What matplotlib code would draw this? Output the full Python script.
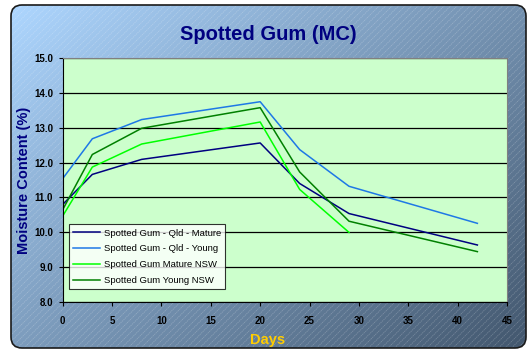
import numpy as np
import matplotlib.pyplot as plt
from matplotlib.patches import FancyBboxPatch
from matplotlib.collections import LineCollection

plt.rcParams['font.family'] = ['Liberation Sans', 'DejaVu Sans']

days = [0, 3, 8, 20, 24, 29, 42]
days_nsw_mature = [0, 3, 8, 20, 24, 29]

qld_mature = [10.80, 11.66, 12.09, 12.56, 11.40, 10.54, 9.64]
qld_young = [11.54, 12.68, 13.23, 13.74, 12.37, 11.32, 10.26]
nsw_mature = [10.47, 11.87, 12.53, 13.16, 11.23, 10.00]
nsw_young = [10.65, 12.23, 12.98, 13.57, 11.73, 10.32, 9.45]

labels = ['Spotted Gum - Qld - Mature', 'Spotted Gum - Qld - Young',
          'Spotted Gum Mature NSW', 'Spotted Gum Young NSW']
colors = ['#000080', '#1E78E6', '#00FF00', '#008000']

W, H = 531, 354
fig = plt.figure(figsize=(W / 100, H / 100), dpi=100)
fig.patch.set_facecolor('white')

# chart frame: diagonal gradient with light hatching and rounded corners
bg = fig.add_axes([0, 0, 1, 1])
bg.set_xlim(0, W)
bg.set_ylim(H, 0)
bg.axis('off')
frame = FancyBboxPatch((11, 5), 515, 343, boxstyle='round,pad=0,rounding_size=11',
                       facecolor='none', edgecolor='#1a1a1a', lw=1.2, zorder=3)
bg.add_patch(frame)
yy, xx = np.mgrid[0:1:200j, 0:1:300j]
t = (xx * 0.55 + yy * 0.45)
c0 = np.array([0.68, 0.84, 1.0])
c1 = np.array([0.26, 0.34, 0.43])
grad = c0 + (c1 - c0) * t[..., None]
im = bg.imshow(grad, extent=(11, 526, 348, 5), aspect='auto', zorder=1)
im.set_clip_path(frame)
segs = [[(x0, 348), (x0 + 343, 5)] for x0 in np.arange(-340, 530, 6.5)]
hatch = LineCollection(segs, colors='white', linewidths=0.5, alpha=0.25,
                       linestyles=(0, (2, 1)), zorder=2)
bg.add_collection(hatch)
hatch.set_clip_path(frame)

ax = fig.add_axes([62.7 / W, 1 - 302.3 / H, (507 - 62.7) / W, (302.3 - 57.7) / H])
ax.set_facecolor('#CCFFCC')

ax.plot(days, qld_mature, color=colors[0], lw=1.1, label=labels[0])
ax.plot(days, qld_young, color=colors[1], lw=1.1, label=labels[1])
ax.plot(days_nsw_mature, nsw_mature, color=colors[2], lw=1.1, label=labels[2])
ax.plot(days, nsw_young, color=colors[3], lw=1.1, label=labels[3])

ax.set_xlim(0, 45)
ax.set_ylim(8, 15)
ax.set_xticks(np.arange(0, 46, 5))
ax.set_yticks(np.arange(8, 15.1, 1))
ax.set_yticklabels([f'{v:.1f}' for v in np.arange(8, 15.1, 1)])
ax.grid(axis='y', color='black', lw=0.9)
ax.set_axisbelow(True)
for s in ['top', 'right']:
    ax.spines[s].set_color('#808080')
for s in ['left', 'bottom']:
    ax.spines[s].set_color('black')
ax.tick_params(direction='out', length=3, labelsize=7, colors='black', pad=4)
for lab in ax.get_xticklabels() + ax.get_yticklabels():
    lab.set_fontweight('bold')
ax.tick_params(axis='x', pad=7)

fig.text(0.505, 1 - 35 / H, 'Spotted Gum (MC)', ha='center', va='center',
         fontsize=14.5, fontweight='bold', color='#000080')
fig.text(24 / W, 1 - 180 / H, 'Moisture Content (%)', ha='center', va='center',
         rotation=90, fontsize=10.5, fontweight='bold', color='#000080')
fig.text(268 / W, 1 - 340 / H, 'Days', ha='center', va='center',
         fontsize=10.5, fontweight='bold', color='#FFCC00')

leg = ax.legend(loc='lower left', bbox_to_anchor=(6.5 / 444.3, 13 / 244.6),
                fontsize=6.8, frameon=True, fancybox=False, borderpad=0.45,
                handlelength=2.8, handletextpad=0.4, labelspacing=0.72,
                borderaxespad=0)
leg.get_frame().set_edgecolor('black')
leg.get_frame().set_linewidth(0.8)

fig.savefig('out.png', dpi=100)
